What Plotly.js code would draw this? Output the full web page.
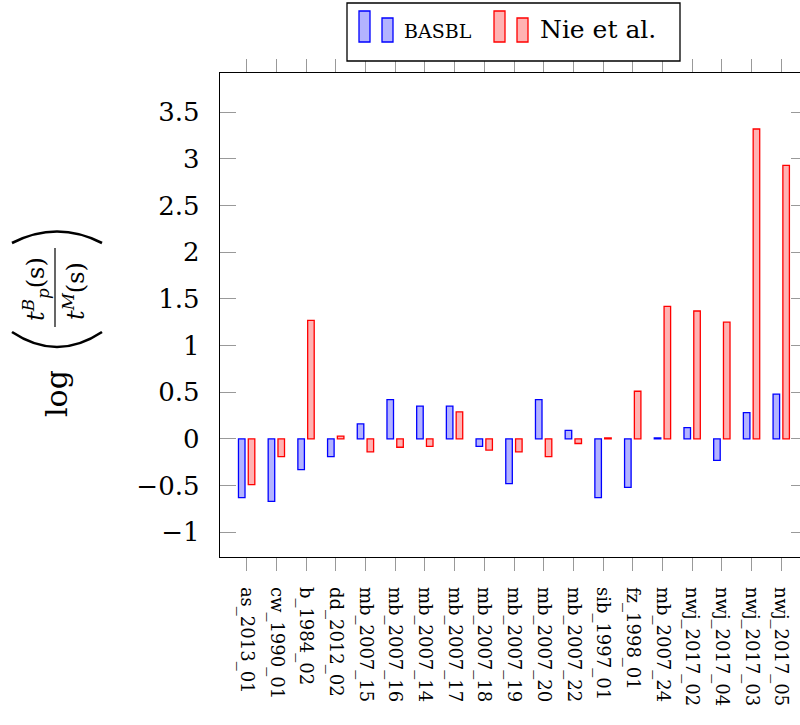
<!DOCTYPE html>
<html>
<head>
<meta charset="utf-8">
<script src="https://cdn.plot.ly/plotly-3.0.1.min.js"></script>
<style>
html,body{margin:0;padding:0;overflow:hidden;background:#fff;}
#chart{width:800px;height:725px;}
</style>
</head>
<body>
<div id="chart"></div>
<script>
// ---- data ----
const categories = ["as_2013_01","cw_1990_01","b_1984_02","dd_2012_02","mb_2007_15","mb_2007_16","mb_2007_14","mb_2007_17","mb_2007_18","mb_2007_19","mb_2007_20","mb_2007_22","sib_1997_01","fz_1998_01","mb_2007_24","nwj_2017_02","nwj_2017_04","nwj_2017_03","nwj_2017_05"];
const basbl = [-0.63,-0.67,-0.33,-0.19,0.16,0.42,0.35,0.35,-0.08,-0.48,0.42,0.09,-0.63,-0.52,0.01,0.12,-0.23,0.28,0.48];
const nie = [-0.49,-0.19,1.27,0.03,-0.14,-0.09,-0.08,0.29,-0.12,-0.14,-0.19,-0.05,0.01,0.51,1.42,1.37,1.25,3.32,2.93];
const seriesNames = ["BASBL","Nie et al."];
const yTickVals = [-1,-0.5,0,0.5,1,1.5,2,2.5,3,3.5];
const yTickText = ["\u22121","\u22120.5","0","0.5","1","1.5","2","2.5","3","3.5"];

// ---- layout geometry ----
const W = 800, H = 725;
const M = {l:220, r:0, t:73, b:168};
const PW = W - M.l - M.r, PH = H - M.t - M.b;
const FONT = "DejaVu Serif, Liberation Serif, serif";
const px = x => (x - M.l) / PW;
const py = y => (H - M.b - y) / PH;
const unitPx = 29.7;                 // pixels per category step
const xMin = -0.9, xMax = xMin + PW / unitPx;

const BW = 0.22;
const traces = [
  {type:'bar', name:seriesNames[0], x:categories, y:basbl, width:BW, offset:-0.278,
   marker:{color:'#b3b3ff', line:{color:'#0000ff', width:1.3}}, showlegend:false, hoverinfo:'skip'},
  {type:'bar', name:seriesNames[1], x:categories, y:nie, width:BW, offset:0.052,
   marker:{color:'#ffb3b3', line:{color:'#ff0000', width:1.3}}, showlegend:false, hoverinfo:'skip'}
];

const shapes = [];
const annotations = [];
// legend box
shapes.push({type:'rect', xref:'paper', yref:'paper', x0:px(347), x1:px(680), y0:py(61), y1:py(3),
  line:{color:'#000', width:1.3}, fillcolor:'#fff', layer:'above'});
function icon(x0, y0, fill, line){
  shapes.push({type:'rect', xref:'paper', yref:'paper', x0:px(x0), x1:px(x0+11), y0:py(42), y1:py(y0),
    line:{color:line, width:1.3}, fillcolor:fill, layer:'above'});
}
icon(359, 11, '#b3b3ff', '#0000ff');
icon(382, 18, '#b3b3ff', '#0000ff');
icon(494, 11, '#ffb3b3', '#ff0000');
icon(517, 18, '#ffb3b3', '#ff0000');
annotations.push({xref:'paper', yref:'paper', x:px(402), y:py(31), xanchor:'left', yanchor:'middle',
  text:seriesNames[0], showarrow:false, font:{family:FONT, size:19, color:'#000'}});
annotations.push({xref:'paper', yref:'paper', x:px(538), y:py(29), xanchor:'left', yanchor:'middle',
  text:seriesNames[1], showarrow:false, font:{family:FONT, size:25, color:'#000'}});

// y-axis title: log( t_p^B(s) / t^M(s) )
annotations.push({xref:'paper', yref:'paper', x:px(56), y:py(394), xanchor:'center', yanchor:'middle',
  text:'log', textangle:-90, showarrow:false, font:{family:FONT, size:30, color:'#000'}});
annotations.push({xref:'paper', yref:'paper', x:px(35), y:py(289), xanchor:'center', yanchor:'middle',
  text:'<i>t</i><sup><i>B</i></sup><sub><i>p</i></sub>(s)', textangle:-90, showarrow:false, font:{family:FONT, size:24, color:'#000'}});
annotations.push({xref:'paper', yref:'paper', x:px(74), y:py(291), xanchor:'center', yanchor:'middle',
  text:'<i>t</i><sup><i>M</i></sup>(s)', textangle:-90, showarrow:false, font:{family:FONT, size:24, color:'#000'}});
shapes.push({type:'line', xref:'paper', yref:'paper', x0:px(55), x1:px(55), y0:py(248), y1:py(327),
  line:{color:'#000', width:1.2}});
shapes.push({type:'path', xref:'paper', yref:'paper',
  path:`M ${px(12)},${py(243)} Q ${px(57)},${py(220)} ${px(102)},${py(243)}`, line:{color:'#000', width:2.6}});
shapes.push({type:'path', xref:'paper', yref:'paper',
  path:`M ${px(12)},${py(332)} Q ${px(57)},${py(362)} ${px(102)},${py(332)}`, line:{color:'#000', width:2.6}});

const layout = {
  width:W, height:H, margin:M,
  paper_bgcolor:'#fff', plot_bgcolor:'#fff',
  barmode:'overlay', showlegend:false,
  font:{family:FONT, color:'#000'},
  xaxis:{type:'category', range:[xMin, xMax], showgrid:false, zeroline:false,
    showline:true, linecolor:'#000', linewidth:1.3, mirror:'allticks',
    ticks:'outside', ticklen:13, tickwidth:1, tickcolor:'#999',
    tickangle:90, tickfont:{family:FONT, size:18, color:'#000'}, ticklabelstandoff:12},
  yaxis:{range:[-1.266, 3.92], showgrid:false, zeroline:false,
    showline:true, linecolor:'#000', linewidth:1.3, mirror:false,
    ticks:'inside', ticklen:16, tickwidth:1, tickcolor:'#999',
    tickvals:yTickVals, ticktext:yTickText, tickfont:{family:FONT, size:26, color:'#000'}, ticklabelstandoff:14},
  yaxis2:{overlaying:'y', side:'right', range:[-1.266, 3.92], showgrid:false, zeroline:false,
    showline:false, ticks:'inside', ticklen:9, tickwidth:1, tickcolor:'#999',
    tickvals:yTickVals, showticklabels:false},
  shapes:shapes, annotations:annotations
};
// dummy invisible trace to activate right-side tick axis
traces.push({type:'scatter', x:[categories[0]], y:[0], yaxis:'y2', mode:'markers',
  marker:{opacity:0}, showlegend:false, hoverinfo:'skip'});
Plotly.newPlot('chart', traces, layout, {displayModeBar:false, staticPlot:true});
</script>
</body>
</html>
